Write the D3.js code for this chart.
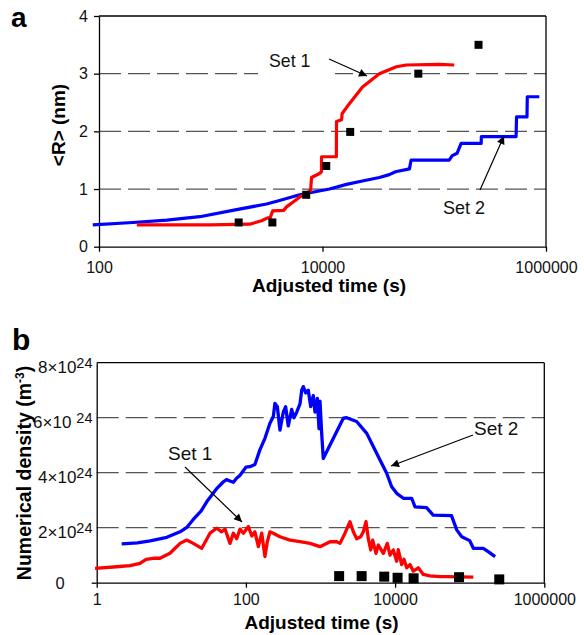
<!DOCTYPE html>
<html>
<head>
<meta charset="utf-8">
<script src="https://cdn.jsdelivr.net/npm/d3@7"></script>
<style>
  body { margin: 0; background: #fff; }
  svg { display: block; font-family: Arial, "Liberation Sans", sans-serif; }
</style>
</head>
<body>
<div id="chart"></div>
<script>
// ---- data ----
// panel a : mean radius <R> (nm) vs adjusted time (s)
const radiusSet1 = [[218,0.38],[1000,0.38],[2230,0.39],[2850,0.45],[3226,0.5],[3400,0.5],[3580,0.62],[4490,0.63],[4770,0.69],[5500,0.78],[6240,0.86],[7000,0.92],[7820,0.97],[7980,1.2],[9400,1.27],[9790,1.3],[9800,1.56],[13300,1.56],[13350,2.17],[14800,2.2],[15000,2.31],[17400,2.48],[22800,2.77],[32300,3.0],[45800,3.12],[56200,3.15],[111000,3.16],[151000,3.15]];
const radiusSet2 = [[88,0.38],[201,0.42],[405,0.46],[798,0.52],[1570,0.63],[3160,0.74],[4130,0.8],[6240,0.9],[11550,1.0],[16400,1.08],[22750,1.14],[32300,1.2],[39600,1.25],[45000,1.3],[60000,1.35],[62000,1.5],[136000,1.5],[145000,1.58],[160000,1.62],[174000,1.79],[263000,1.79],[264000,1.91],[540000,1.91],[545000,2.25],[676000,2.25],[680000,2.6],[871000,2.6]];
const expTimes = [1778,3560,7150,10800,17700,72000,249000];
const expRadius = [0.42,0.42,0.9,1.4,1.99,3.0,3.5];

// panel b : numerical density (x10^24 m^-3) vs adjusted time (s)
const densitySet1 = [[0.95,0.52],[1.85,0.58],[2.8,0.62],[3.8,0.7],[4.6,0.85],[6.0,0.89],[7.06,0.89],[9.6,1.07],[13.1,1.43],[16.1,1.55],[19.7,1.43],[25.6,1.25],[33,1.8],[40.6,1.98],[47.4,1.85],[52.5,1.95],[61.2,1.43],[67.8,1.8],[75.3,1.6],[83.4,1.95],[92.3,1.8],[108,2.04],[120,1.7],[132,1.85],[147,1.31],[163,1.8],[180,0.95],[194,1.5],[210,1.85],[233,1.8],[286,1.67],[390,1.55],[531,1.49],[723,1.43],[985,1.31],[1341,1.49],[1648,1.49],[1825,1.43],[2130,1.8],[2486,2.22],[2754,1.85],[3057,1.6],[3457,1.67],[3749,1.85],[4074,2.22],[4375,1.6],[4713,1.19],[5010,1.55],[5546,1.07],[5958,1.37],[6953,1.07],[7859,1.43],[8547,1.0],[9464,1.19],[10500,0.78],[11030,1.2],[12250,0.66],[13150,0.85],[14300,0.54],[15840,0.66],[17540,0.42],[20470,0.54],[23880,0.3],[29370,0.25],[39970,0.22],[49400,0.22],[112000,0.2]];
const densitySet2 = [[2.16,1.41],[3.5,1.45],[5.2,1.52],[8.7,1.65],[13.1,1.85],[16,2.0],[19.7,2.3],[25,2.6],[30,2.95],[40,3.4],[50,3.67],[55,3.75],[61,3.7],[68,3.65],[75,3.8],[83,3.9],[100,4.2],[113,4.22],[132,4.3],[154,4.83],[180,5.25],[210,5.8],[233,6.04],[245,6.52],[264,6.4],[286,5.55],[317,6.2],[341,6.4],[370,5.7],[411,6.3],[441,6.0],[480,6.2],[531,6.5],[560,7.0],[588,7.13],[633,6.9],[686,7.0],[739,6.4],[800,6.8],[843,6.2],[906,6.7],[955,5.6],[985,6.6],[1037,5.43],[1090,4.52],[2024,5.98],[2245,6.0],[3050,5.86],[4170,5.43],[5100,4.95],[6280,4.46],[7710,3.98],[9000,3.49],[10500,3.25],[12900,3.07],[16700,3.07],[18500,2.76],[26400,2.73],[32400,2.46],[57000,2.44],[67000,1.92],[78200,1.67],[100000,1.53],[112000,1.25],[152000,1.25],[177000,1.13],[219000,0.95]];
const expDensity = [0.24,0.24,0.22,0.18,0.16,0.2,0.12];

// ticks
const xTicksA = [100, 10000, 1000000];
const yTicksA = [0, 1, 2, 3, 4];
const gridA = [1, 2, 3];
const xTicksB = [1, 100, 10000, 1000000];
const yTicksB = [0, 2, 4, 6, 8];
const gridB = [2, 4, 6];

const W = 584, H = 635;
const font = 'Arial, "Liberation Sans", sans-serif';

const svg = d3.select('#chart').append('svg')
  .attr('width', W).attr('height', H);

// arrow head
svg.append('defs').append('marker')
  .attr('id', 'head')
  .attr('markerUnits', 'userSpaceOnUse')
  .attr('viewBox', '0 0 10 10')
  .attr('refX', 10).attr('refY', 5)
  .attr('markerWidth', 10).attr('markerHeight', 8)
  .attr('orient', 'auto')
  .append('path').attr('d', 'M0,0L10,5L0,10Z').attr('fill', '#000');

// ---------- panel a ----------
const xA = d3.scaleLog().domain([100, 1000000]).range([99, 546]);
const yA = d3.scaleLinear().domain([0, 4]).range([246.7, 16]);

const gA = svg.append('g');

gA.selectAll('line.grid').data(gridA).join('line')
  .attr('class', 'grid')
  .attr('x1', xA.range()[0]).attr('x2', xA.range()[1])
  .attr('y1', d => yA(d)).attr('y2', d => yA(d))
  .attr('stroke', '#555').attr('stroke-width', 1.3)
  .attr('stroke-dasharray', '22,7');

// white box behind "Set 1" label
gA.append('rect')
  .attr('x', 258).attr('y', 48).attr('width', 77).attr('height', 32)
  .attr('fill', '#fff');

// box top / right
gA.append('line')
  .attr('x1', xA.range()[0]).attr('x2', xA.range()[1])
  .attr('y1', yA(4)).attr('y2', yA(4))
  .attr('stroke', '#000').attr('stroke-width', 1.3);
gA.append('line')
  .attr('x1', xA.range()[1]).attr('x2', xA.range()[1])
  .attr('y1', yA(4)).attr('y2', yA(0))
  .attr('stroke', '#000').attr('stroke-width', 1.3);

const axXA = gA.append('g')
  .attr('transform', `translate(0,${yA(0)})`)
  .call(d3.axisBottom(xA).tickValues(xTicksA).tickFormat(d3.format('d'))
    .tickSize(5).tickSizeOuter(0).tickPadding(10));
const axYA = gA.append('g')
  .attr('transform', `translate(${xA(100)},0)`)
  .call(d3.axisLeft(yA).tickValues(yTicksA).tickFormat(d3.format('d'))
    .tickSize(5).tickSizeOuter(0).tickPadding(6));

[axXA, axYA].forEach(ax => {
  ax.selectAll('text').attr('font-size', 16).attr('font-family', font).attr('fill', '#111');
  ax.selectAll('line, path').attr('stroke', '#000').attr('stroke-width', 1.3);
});

const lineA = d3.line().x(d => xA(d[0])).y(d => yA(d[1]));

gA.append('path').datum(radiusSet2)
  .attr('d', lineA).attr('fill', 'none')
  .attr('stroke', '#0000ff').attr('stroke-width', 3.2).attr('stroke-linejoin', 'round');
gA.append('path').datum(radiusSet1)
  .attr('d', lineA).attr('fill', 'none')
  .attr('stroke', '#ff0000').attr('stroke-width', 3.2).attr('stroke-linejoin', 'round');

gA.selectAll('rect.exp').data(expTimes).join('rect')
  .attr('class', 'exp')
  .attr('x', d => xA(d) - 4).attr('y', (d, i) => yA(expRadius[i]) - 4)
  .attr('width', 8).attr('height', 8).attr('fill', '#000');

// labels and arrows
gA.append('text').attr('x', 269).attr('y', 66.5)
  .attr('font-size', 17.7).attr('fill', '#111').text('Set 1');
gA.append('line').attr('x1', 329).attr('y1', 59).attr('x2', 367).attr('y2', 76)
  .attr('stroke', '#000').attr('stroke-width', 1.2).attr('marker-end', 'url(#head)');
gA.append('text').attr('x', 443).attr('y', 213.5)
  .attr('font-size', 18).attr('fill', '#111').text('Set 2');
gA.append('line').attr('x1', 480).attr('y1', 190).attr('x2', 504).attr('y2', 136)
  .attr('stroke', '#000').attr('stroke-width', 1.2).attr('marker-end', 'url(#head)');

gA.append('text').attr('x', 329).attr('y', 291.5)
  .attr('text-anchor', 'middle').attr('font-size', 19).attr('font-weight', 'bold')
  .text('Adjusted time (s)');
gA.append('text')
  .attr('transform', 'translate(65,125) rotate(-90)')
  .attr('text-anchor', 'middle').attr('font-size', 19).attr('font-weight', 'bold')
  .text('<R> (nm)');
gA.append('text').attr('x', 11).attr('y', 26.5)
  .attr('font-size', 28).attr('font-weight', 'bold').text('a');

// ---------- panel b ----------
const xB = d3.scaleLog().domain([1, 1000000]).range([96.7, 544.3]);
const yB = d3.scaleLinear().domain([0, 8]).range([582.7, 362.7]);

const gB = svg.append('g');

gB.selectAll('line.grid').data(gridB).join('line')
  .attr('class', 'grid')
  .attr('x1', xB.range()[0]).attr('x2', xB.range()[1])
  .attr('y1', d => yB(d)).attr('y2', d => yB(d))
  .attr('stroke', '#555').attr('stroke-width', 1.3)
  .attr('stroke-dasharray', '22,7');

gB.append('line')
  .attr('x1', xB.range()[0]).attr('x2', xB.range()[1])
  .attr('y1', yB(8)).attr('y2', yB(8))
  .attr('stroke', '#000').attr('stroke-width', 1.3);
gB.append('line')
  .attr('x1', xB.range()[1]).attr('x2', xB.range()[1])
  .attr('y1', yB(8)).attr('y2', yB(0))
  .attr('stroke', '#000').attr('stroke-width', 1.3);

const axXB = gB.append('g')
  .attr('transform', `translate(0,${yB(0)})`)
  .call(d3.axisBottom(xB).tickValues(xTicksB).tickFormat(d3.format('d'))
    .tickSize(5).tickSizeOuter(0).tickPadding(6));
const axYB = gB.append('g')
  .attr('transform', `translate(${xB(1)},0)`)
  .call(d3.axisLeft(yB).tickValues([0]).tickFormat('')
    .tickSize(5).tickSizeOuter(0));

[axXB, axYB].forEach(ax => {
  ax.selectAll('text').attr('font-size', 16).attr('font-family', font).attr('fill', '#111');
  ax.selectAll('line, path').attr('stroke', '#000').attr('stroke-width', 1.3);
});

// y tick labels with powers of ten
yTicksB.forEach(v => {
  if (v === 0) {
    gB.append('text').attr('x', 60).attr('y', yB(v) + 6)
      .attr('text-anchor', 'middle').attr('font-size', 16.5).attr('fill', '#111').text('0');
    return;
  }
  const t = gB.append('text').attr('x', 92.5).attr('y', yB(v) + 10.5)
    .attr('text-anchor', 'end').attr('font-size', 17).attr('fill', '#111');
  t.append('tspan').text(v + '×10');
  t.append('tspan').attr('dy', -5.5).attr('dx', v === 6 ? 5 : 0)
    .attr('font-size', 14.5).text('24');
});

const lineB = d3.line().x(d => xB(d[0])).y(d => yB(d[1]));

gB.append('path').datum(densitySet2)
  .attr('d', lineB).attr('fill', 'none')
  .attr('stroke', '#0000ff').attr('stroke-width', 3.3).attr('stroke-linejoin', 'round');
gB.append('path').datum(densitySet1)
  .attr('d', lineB).attr('fill', 'none')
  .attr('stroke', '#ff0000').attr('stroke-width', 3.3).attr('stroke-linejoin', 'round');

gB.selectAll('rect.exp').data(expTimes).join('rect')
  .attr('class', 'exp')
  .attr('x', d => xB(d) - 5).attr('y', (d, i) => yB(expDensity[i]) - 5)
  .attr('width', 10).attr('height', 10).attr('fill', '#000');

gB.append('text').attr('x', 168).attr('y', 460)
  .attr('font-size', 19).attr('fill', '#111').text('Set 1');
gB.append('line').attr('x1', 185).attr('y1', 467).attr('x2', 242).attr('y2', 522)
  .attr('stroke', '#000').attr('stroke-width', 1.2).attr('marker-end', 'url(#head)');
gB.append('text').attr('x', 474).attr('y', 435)
  .attr('font-size', 19).attr('fill', '#111').text('Set 2');
gB.append('line').attr('x1', 473).attr('y1', 435).attr('x2', 391).attr('y2', 466)
  .attr('stroke', '#000').attr('stroke-width', 1.2).attr('marker-end', 'url(#head)');

gB.append('text').attr('x', 321.5).attr('y', 629)
  .attr('text-anchor', 'middle').attr('font-size', 19).attr('font-weight', 'bold')
  .text('Adjusted time (s)');
const yt = gB.append('text')
  .attr('transform', 'translate(31,473) rotate(-90)')
  .attr('text-anchor', 'middle').attr('font-size', 19.5).attr('font-weight', 'bold');
yt.append('tspan').text('Numerical density (m');
yt.append('tspan').attr('dy', -7).attr('font-size', 12).text('-3');
yt.append('tspan').attr('dy', 7).text(')');
gB.append('text').attr('x', 12).attr('y', 350)
  .attr('font-size', 30).attr('font-weight', 'bold').text('b');
</script>
</body>
</html>
